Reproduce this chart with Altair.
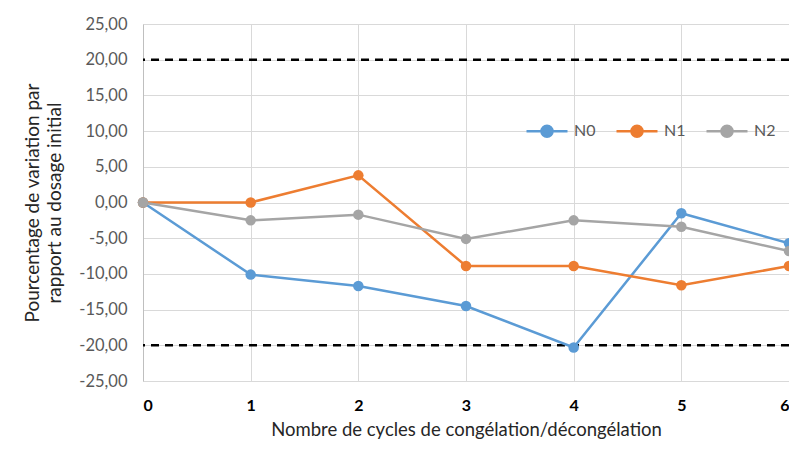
import altair as alt
import pandas as pd

cycles = [0, 1, 2, 3, 4, 5, 6]
n0 = [0.0, -10.1, -11.7, -14.5, -20.3, -1.5, -5.7]
n1 = [0.0, 0.0, 3.8, -8.9, -8.9, -11.6, -8.9]
n2 = [0.0, -2.5, -1.7, -5.1, -2.5, -3.4, -6.8]
series_names = ["N0", "N1", "N2"]
series_colors = ["#5B9BD5", "#ED7D31", "#A5A5A5"]
limits = [20, -20]

rows = []
for name, vals in zip(series_names, [n0, n1, n2]):
    for c, v in zip(cycles, vals):
        rows.append({"cycle": c, "value": v, "serie": name})
df = pd.DataFrame(rows)
lim_df = pd.DataFrame({"lim": limits})

FONT = "Lato"
sym = "M-1,0L1,0M-0.27,0A0.27,0.27,0,1,0,0.27,0A0.27,0.27,0,1,0,-0.27,0Z"

xs = alt.Scale(domain=[0, 6], nice=False, zero=False)
ys = alt.Scale(domain=[-25, 25], nice=False)
cs = alt.Scale(domain=series_names, range=series_colors)

x_axis = alt.Axis(values=cycles, format="d",
                  title="Nombre de cycles de congélation/décongélation",
                  labelFontWeight="bold", labelFontSize=16, labelColor="#000000",
                  labelPadding=16, titlePadding=7, titleFontSize=18.5,
                  titleFontWeight="normal", titleColor="#262626", labelOverlap=False,
                  grid=True, gridColor="#d9d9d9", domain=False, ticks=False)
y_axis = alt.Axis(values=list(range(-25, 30, 5)),
                  labelExpr="(datum.value < 0 ? '-' : '') + replace(format(abs(datum.value), '.2f'), '.', ',')",
                  title=["Pourcentage de variation par", "rapport au dosage initial"],
                  labelFontSize=16.5, labelColor="#595959", labelPadding=16, labelOverlap=False,
                  titleFontSize=19, titleFontWeight="normal", titleColor="#262626",
                  titlePadding=14, titleLineHeight=22, grid=True, gridColor="#d9d9d9",
                  domain=True, domainColor="#bfbfbf", ticks=False)

x_enc = alt.X("cycle:Q", scale=xs, axis=x_axis)
y_enc = alt.Y("value:Q", scale=ys, axis=y_axis)
legend = alt.Legend(title=None, orient="none", direction="horizontal",
                    legendX=382, legendY=85, symbolType=sym,
                    symbolSize=1681, symbolStrokeWidth=2.5,
                    labelFontSize=16, labelColor="#595959",
                    labelFont=FONT, columnPadding=15, labelOffset=5)
c_enc = alt.Color("serie:N", scale=cs, legend=legend)

base = alt.Chart(df)
lines = base.mark_line(strokeWidth=2.5).encode(x=x_enc, y=y_enc, color=c_enc)
points = base.mark_point(filled=True, size=110, opacity=1).encode(x=x_enc, y=y_enc, color=c_enc)
rules = alt.Chart(lim_df).mark_rule(color="#000000", strokeWidth=2.5, strokeDash=[8, 6]).encode(
    y=alt.Y("lim:Q", scale=ys, axis=y_axis)
)

chart = alt.layer(rules, lines, points).properties(
    width=646, height=357,
    autosize=alt.AutoSizeParams(type="none"),
    padding={"left": 135, "top": 16, "right": 0, "bottom": 61},
).configure(font=FONT).configure_view(stroke=None)

chart.save("out.html", embed_options={"renderer": "svg", "actions": False})
